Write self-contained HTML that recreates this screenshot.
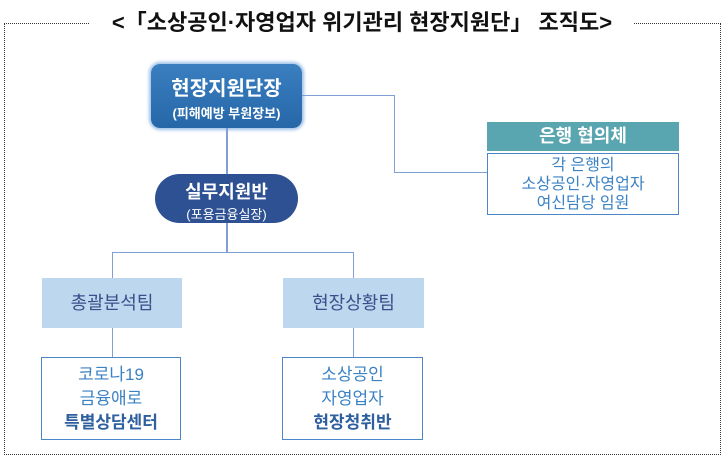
<!DOCTYPE html>
<html><head><meta charset="utf-8"><style>
body{margin:0;width:724px;height:460px;background:#fff;position:relative;overflow:hidden;font-family:"Liberation Sans","Noto Sans CJK KR",sans-serif}
.a{position:absolute;box-sizing:border-box;text-align:center}
.l{position:absolute;background:#7f9fd6}
</style></head><body>
<div class="a" style="left:4px;top:23px;width:717px;height:432px;border:1px dotted #333"></div>
<div class="a" style="left:90px;top:7px;width:544px;height:32px;background:#fff;font-size:22px;font-weight:bold;line-height:32px;color:#111;white-space:nowrap">&lt;「소상공인·자영업자 위기관리 현장지원단」 조직도&gt;</div>
<div class="a" style="left:151px;top:64px;width:151px;height:64px;border-radius:9px;background:linear-gradient(#3a7fc0,#2667a8);box-shadow:0 0 3px 2px #9cc0e6;color:#fff"><div style="font-size:20px;font-weight:bold;margin-top:8px">현장지원단장</div><div style="font-size:13px;font-weight:bold;margin-top:2px">(피해예방 부원장보)</div></div>
<div class="l" style="left:226px;top:128px;width:2px;height:47px"></div>
<div class="l" style="left:302px;top:95px;width:93px;height:1px"></div>
<div class="l" style="left:394px;top:95px;width:1px;height:78px"></div>
<div class="l" style="left:394px;top:172px;width:93px;height:1px"></div>
<div class="a" style="left:155px;top:174px;width:143px;height:49px;border-radius:25px;background:#2e5193;color:#fff"><div style="font-size:18px;font-weight:bold;margin-top:4px">실무지원반</div><div style="font-size:13px;margin-top:0px">(포용금융실장)</div></div>
<div class="a" style="left:487px;top:122px;width:192px;height:29px;background:#5aa6b0;color:#fff;font-size:18px;font-weight:bold;line-height:29px">은행 협의체</div>
<div class="a" style="left:487px;top:153px;width:192px;height:62px;border:1px solid #4a86c8;color:#3b82c4;font-size:16px;line-height:19px;padding-top:2px">각 은행의<br>소상공인·자영업자<br>여신담당 임원</div>
<div class="l" style="left:226px;top:223px;width:2px;height:30px"></div>
<div class="l" style="left:112px;top:252px;width:242px;height:1px"></div>
<div class="l" style="left:112px;top:252px;width:1px;height:26px"></div>
<div class="l" style="left:353px;top:252px;width:1px;height:26px"></div>
<div class="a" style="left:42px;top:278px;width:140px;height:50px;background:#bdd7ee;color:#3a4f8a;font-size:18px;line-height:50px">총괄분석팀</div>
<div class="a" style="left:283px;top:278px;width:141px;height:50px;background:#bdd7ee;color:#3a4f8a;font-size:18px;line-height:50px">현장상황팀</div>
<div class="l" style="left:112px;top:328px;width:1px;height:29px"></div>
<div class="l" style="left:353px;top:328px;width:1px;height:29px"></div>
<div class="a" style="left:41px;top:357px;width:140px;height:83px;border:1px solid #4a86c8;color:#3b82c4;font-size:17px;line-height:24px;padding-top:5px">코로나19<br>금융애로<br><b style="color:#2e5f9e">특별상담센터</b></div>
<div class="a" style="left:282px;top:357px;width:141px;height:83px;border:1px solid #4a86c8;color:#3b82c4;font-size:17px;line-height:24px;padding-top:5px">소상공인<br>자영업자<br><b style="color:#2e5f9e">현장청취반</b></div>
</body></html>
